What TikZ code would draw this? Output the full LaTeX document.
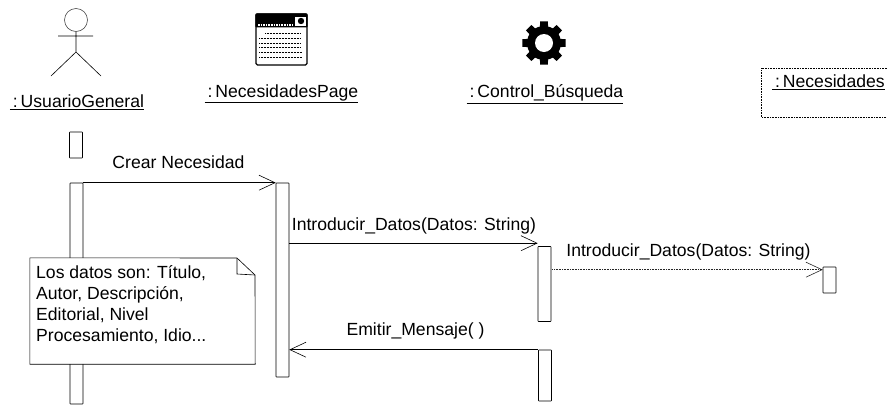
\documentclass[tikz,border=0pt]{standalone}
\usepackage{fontspec}
\setmainfont{Liberation Sans}
\usetikzlibrary{positioning, arrows.meta, calc}

\tikzset{
	activation/.style={draw, fill=white, line width=.6pt, minimum width=13pt, inner sep=0pt, rounded corners=.5pt},
	message/.style={draw, line width=.6pt, -{Straight Barb[length=16pt,width=15pt]}},
	textlabel/.style={inner sep=0pt, font=\fontsize{17.6}{20}\selectfont}
}

\begin{document}
\begin{tikzpicture}[x=1pt, y=-1pt]
		\useasboundingbox (0,0) rectangle (887,405);

		% objects
		\node[circle, draw, black!70, line width=.6pt, minimum size=23pt, inner sep=0pt] (head) at (76,20) {};
		\coordinate (hip) at (76,52);
		\coordinate (armL) at (58,36);
		\coordinate (armR) at (93,36);
		\coordinate (legL) at (51,76);
		\coordinate (legR) at (101,76);
		\draw[line width=.6pt] (head) -- (hip) (armL) -- (armR) (hip) -- (legL) (hip) -- (legR);
		\node[textlabel] (usuario) at (77,102) {\underline{\,:\,UsuarioGeneral}};

		\node[draw, fill=white, line width=1.4pt, rounded corners=1.5pt, minimum width=51pt, minimum height=51pt, inner sep=0pt] (page) at (281.5,39.5) {};
		\fill[rounded corners=1pt] (page.north west) rectangle ($(page.north east)+(0,14)$);
		\draw[white, line width=1.6pt, densely dotted] (258,25) -- (293,25);
		\fill[white] (295,17) rectangle (306,26);
		\fill[black] (301,21) circle (3.2pt);
		\foreach \ypos/\xa/\xb in {33/265/301, 38/259/301, 43/259/301, 47/259/300, 52/259/302, 57/259/302}{
			\draw[line width=.5pt, densely dotted] (\xa,\ypos) -- (\xb,\ypos);
		}
		\node[textlabel] (pagelabel) at (281.5,94) {\underline{\,:\,NecesidadesPage}};

		\begin{scope}[shift={(544,43)}]
			\fill (0,0) circle (17pt);
			\foreach \a in {0,45,...,315}{
				\fill (\a-15:16) -- (\a-10:22) -- (\a+10:22) -- (\a+15:16) -- cycle;
			}
			\fill[white] (0,0) circle (9pt);
		\end{scope}
		\node[textlabel] (control) at (545,94) {\underline{\,:\,Control\_Búsqueda}};

		\coordinate (boxTL) at (761,68);
		\coordinate (boxTR) at (887,68);
		\coordinate (boxBL) at (761,117);
		\coordinate (boxBR) at (887,117);
		\draw[densely dotted, line width=.6pt] (boxTR) -- (boxTL) -- (boxBL) -- (boxBR);
		\node[textlabel, anchor=west] (necesidades) at (772,82) {\underline{\,:\,Necesidades}};

		% activations
		\node[activation, minimum height=26pt] (a0) at (76,145) {};
		\node[activation, minimum height=221pt] (a1) at (76.5,293.5) {};
		\node[activation, minimum height=194pt] (a2) at (282.5,280) {};
		\node[activation, minimum height=75pt] (a3) at (544.5,284) {};
		\node[activation, minimum height=51pt] (a4) at (545,375.5) {};
		\node[activation, minimum height=26pt] (a5) at (829.5,280) {};

		% messages
		\draw[message] (a1.north east) -- (a2.north west);
		\draw[message] ([yshift=3pt]a2.east |- a3.north) -- ([yshift=3pt]a3.north west);
		\draw[message, densely dotted, black!85] ([xshift=1pt,yshift=-3pt]a3.east |- a5.north) -- ([yshift=-3pt]a5.north west);
		\draw[message] (a4.north west) -- (a2.east |- a4.north);

		\node[textlabel] (crear) at (178.5,162) {Crear Necesidad};
		\node[textlabel] (intro1) at (414,226) {Introducir\_Datos(Datos: String)};
		\node[textlabel] (intro2) at (688.5,252) {Introducir\_Datos(Datos: String)};
		\node[textlabel] (emitir) at (415.5,331) {Emitir\_Mensaje( )};

		% note
		\node[fill=white, minimum width=225pt, minimum height=106pt, inner sep=0pt] (note) at (142.5,311) {};
		\draw[line width=.6pt, fill=white] (note.north west) -- (237,258) -- (255,275) -- (note.south east) -- (note.south west) -- cycle;
		\draw[line width=.6pt] (237,258) -- (237,274) -- (255,275);
		\node[textlabel, anchor=north west, align=left, font=\fontsize{17.6}{21}\selectfont] (notetext) at (36,265) {Los datos son: Título,\\Autor, Descripción,\\Editorial, Nivel\\Procesamiento, Idio...};
\end{tikzpicture}
\end{document}
